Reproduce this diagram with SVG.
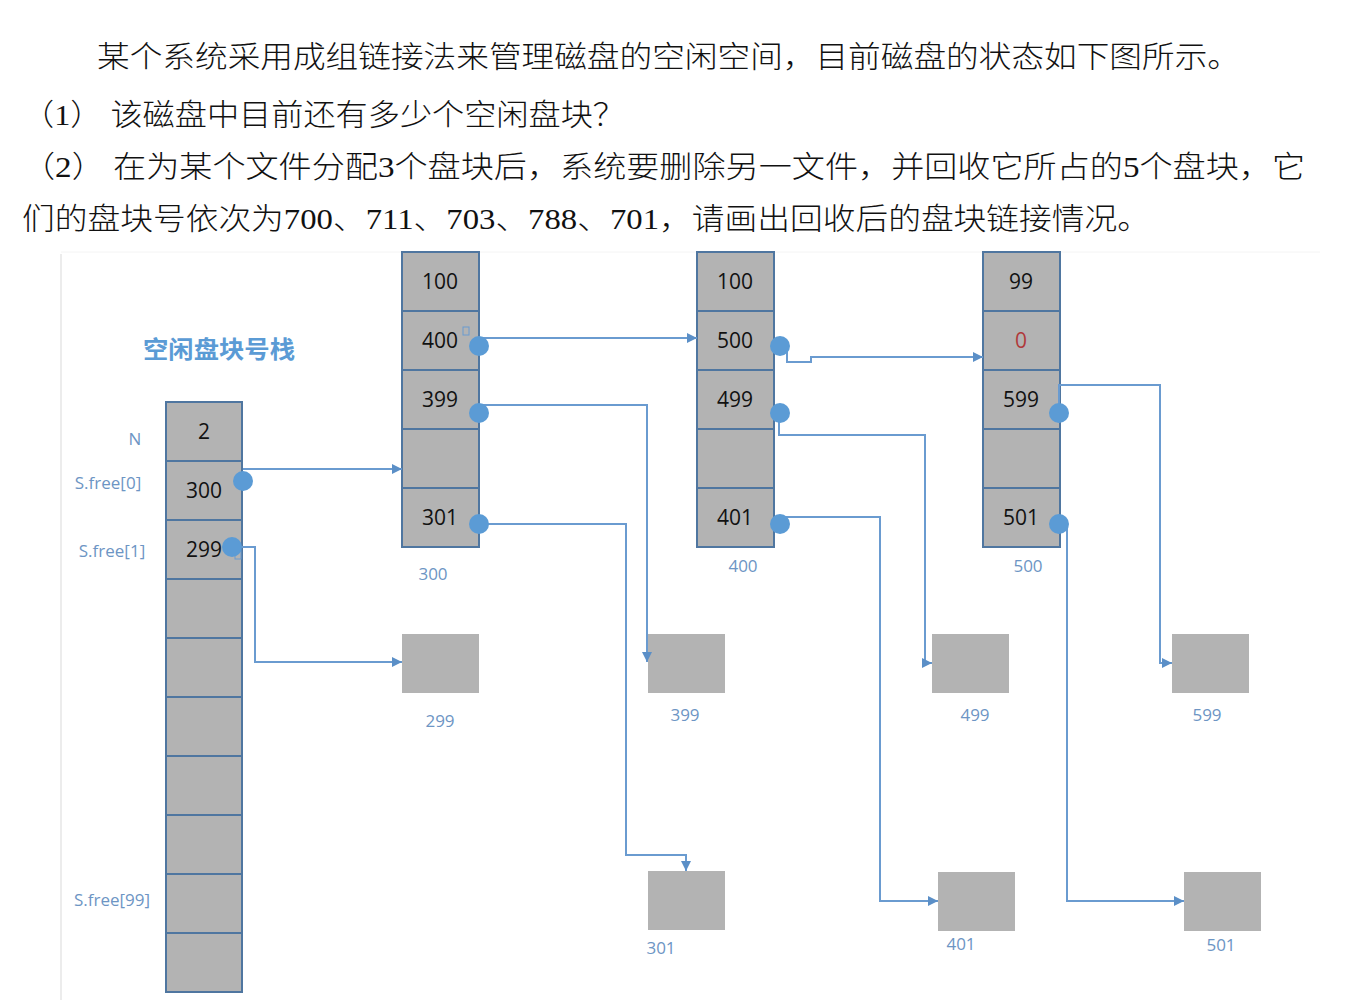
<svg xmlns="http://www.w3.org/2000/svg" width="1352" height="1004" viewBox="0 0 1352 1004">
<style>
.q{font-family:"Liberation Serif","Noto Sans CJK SC",serif;font-size:30px;font-weight:300;fill:#111}
.cell{fill:#b3b3b3;stroke:#4f76a0;stroke-width:2}
.blk{fill:#b3b3b3}
.v{font-family:"Open Sans","Liberation Sans",sans-serif;font-size:21px;fill:#111;text-anchor:middle}
.lb{font-family:"Open Sans","Liberation Sans",sans-serif;font-size:17px;fill:#6d95c4;text-anchor:middle}
.ln{fill:none;stroke:#6a9bd0;stroke-width:2}
.dot{fill:#5b9bd5}
.sq{fill:none;stroke:#6a9bd0;stroke-width:1}
</style>
<defs>
<marker id="ar" viewBox="0 0 10 10" refX="10" refY="5" markerWidth="10" markerHeight="10" markerUnits="userSpaceOnUse" orient="auto">
<path d="M0,0 L10,5 L0,10 z" fill="#5b8fc7"/>
</marker>
</defs>
<rect width="1352" height="1004" fill="#fff"/>
<g id="question">
<text class="q" x="97" y="67" textLength="1143" lengthAdjust="spacingAndGlyphs">某个系统采用成组链接法来管理磁盘的空闲空间，目前磁盘的状态如下图所示。</text>
<text class="q" x="22" y="125" textLength="603" lengthAdjust="spacingAndGlyphs">（1） 该磁盘中目前还有多少个空闲盘块？</text>
<text class="q" x="22" y="177" textLength="1283" lengthAdjust="spacingAndGlyphs">（2） 在为某个文件分配3个盘块后，系统要删除另一文件，并回收它所占的5个盘块，它</text>
<text class="q" x="22" y="229" textLength="1128" lengthAdjust="spacingAndGlyphs">们的盘块号依次为700、711、703、788、701，请画出回收后的盘块链接情况。</text>
</g>
<line x1="61" y1="254" x2="61" y2="1000" stroke="#e6e6e6" stroke-width="1.5"/>
<line x1="61" y1="252" x2="1320" y2="252" stroke="#f4f4f4" stroke-width="1"/>
<g id="stack">
<text x="143" y="358" textLength="152" lengthAdjust="spacingAndGlyphs" style="font-family:'Noto Sans CJK SC',sans-serif;font-size:24px;font-weight:bold;fill:#5b9bd5">空闲盘块号栈</text>
<rect class="cell" x="166" y="402" width="76" height="59"/>
<rect class="cell" x="166" y="461" width="76" height="59"/>
<rect class="cell" x="166" y="520" width="76" height="59"/>
<rect class="cell" x="166" y="579" width="76" height="59"/>
<rect class="cell" x="166" y="638" width="76" height="59"/>
<rect class="cell" x="166" y="697" width="76" height="59"/>
<rect class="cell" x="166" y="756" width="76" height="59"/>
<rect class="cell" x="166" y="815" width="76" height="59"/>
<rect class="cell" x="166" y="874" width="76" height="59"/>
<rect class="cell" x="166" y="933" width="76" height="59"/>
<text class="v" x="204" y="439">2</text>
<text class="v" x="204" y="498">300</text>
<text class="v" x="204" y="557">299</text>
<text class="lb" x="135" y="445">N</text>
<text class="lb" x="108" y="489">S.free[0]</text>
<text class="lb" x="112" y="557">S.free[1]</text>
<text class="lb" x="112" y="906">S.free[99]</text>
</g>
<g id="block300">
<rect class="cell" x="402" y="252" width="77" height="59"/>
<rect class="cell" x="402" y="311" width="77" height="59"/>
<rect class="cell" x="402" y="370" width="77" height="59"/>
<rect class="cell" x="402" y="429" width="77" height="59"/>
<rect class="cell" x="402" y="488" width="77" height="59"/>
<text class="v" x="440" y="289">100</text>
<text class="v" x="440" y="348">400</text>
<text class="v" x="440" y="407">399</text>
<text class="v" x="440" y="525">301</text>
<text class="lb" x="433" y="580">300</text>
</g>
<g id="block400">
<rect class="cell" x="697" y="252" width="77" height="59"/>
<rect class="cell" x="697" y="311" width="77" height="59"/>
<rect class="cell" x="697" y="370" width="77" height="59"/>
<rect class="cell" x="697" y="429" width="77" height="59"/>
<rect class="cell" x="697" y="488" width="77" height="59"/>
<text class="v" x="735" y="289">100</text>
<text class="v" x="735" y="348">500</text>
<text class="v" x="735" y="407">499</text>
<text class="v" x="735" y="525">401</text>
<text class="lb" x="743" y="572">400</text>
</g>
<g id="block500">
<rect class="cell" x="983" y="252" width="77" height="59"/>
<rect class="cell" x="983" y="311" width="77" height="59"/>
<rect class="cell" x="983" y="370" width="77" height="59"/>
<rect class="cell" x="983" y="429" width="77" height="59"/>
<rect class="cell" x="983" y="488" width="77" height="59"/>
<text class="v" x="1021" y="289">99</text>
<text class="v" x="1021" y="348" style="fill:#b03a3a">0</text>
<text class="v" x="1021" y="407">599</text>
<text class="v" x="1021" y="525">501</text>
<text class="lb" x="1028" y="572">500</text>
</g>
<g id="b299"><rect class="blk" x="402" y="634" width="77" height="59"/><text class="lb" x="440" y="727">299</text></g>
<g id="b399"><rect class="blk" x="648" y="634" width="77" height="59"/><text class="lb" x="685" y="721">399</text></g>
<g id="b499"><rect class="blk" x="932" y="634" width="77" height="59"/><text class="lb" x="975" y="721">499</text></g>
<g id="b599"><rect class="blk" x="1172" y="634" width="77" height="59"/><text class="lb" x="1207" y="721">599</text></g>
<g id="b301"><rect class="blk" x="648" y="871" width="77" height="59"/><text class="lb" x="661" y="954">301</text></g>
<g id="b401"><rect class="blk" x="938" y="872" width="77" height="59"/><text class="lb" x="961" y="950">401</text></g>
<g id="b501"><rect class="blk" x="1184" y="872" width="77" height="59"/><text class="lb" x="1221" y="951">501</text></g>
<g id="connectors">
<path class="ln" d="M243,469 H402" marker-end="url(#ar)"/>
<path class="ln" d="M240,547 H255 V662 H402" marker-end="url(#ar)"/>
<path class="ln" d="M479,338 H697" marker-end="url(#ar)"/>
<path class="ln" d="M479,405 H647 V662" marker-end="url(#ar)"/>
<path class="ln" d="M479,524 H626 V855 H686 V871" marker-end="url(#ar)"/>
<path class="ln" d="M787,350 V362 H811 V357 H983" marker-end="url(#ar)"/>
<path class="ln" d="M779,420 V435 H925 V663 H932" marker-end="url(#ar)"/>
<path class="ln" d="M780,517 H880 V901 H938" marker-end="url(#ar)"/>
<path class="ln" d="M1059,413 V385 H1160 V663 H1172" marker-end="url(#ar)"/>
<path class="ln" d="M1067,524 V901 H1184" marker-end="url(#ar)"/>
<rect class="sq" x="463" y="327" width="6" height="8"/>
<rect class="sq" x="235" y="551" width="6" height="8"/>
<circle class="dot" cx="243" cy="481" r="10"/>
<circle class="dot" cx="232" cy="547" r="10"/>
<circle class="dot" cx="479" cy="346" r="10"/>
<circle class="dot" cx="479" cy="413" r="10"/>
<circle class="dot" cx="479" cy="524" r="10"/>
<circle class="dot" cx="780" cy="346" r="10"/>
<circle class="dot" cx="780" cy="413" r="10"/>
<circle class="dot" cx="780" cy="524" r="10"/>
<circle class="dot" cx="1059" cy="413" r="10"/>
<circle class="dot" cx="1059" cy="524" r="10"/>
</g>
</svg>
